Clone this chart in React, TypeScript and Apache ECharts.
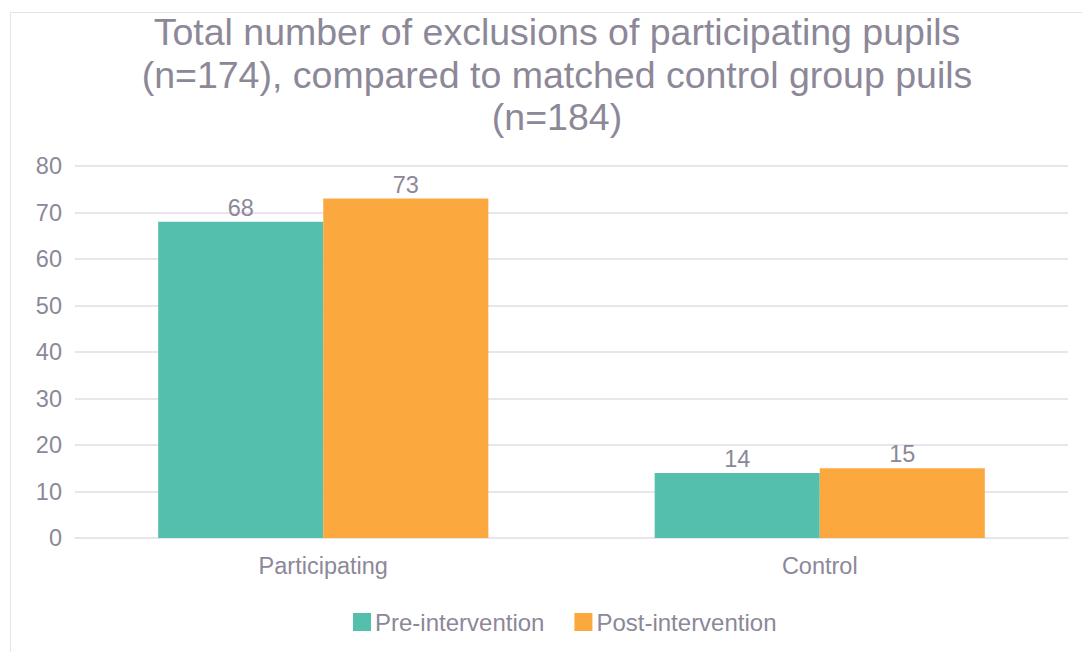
import React, { useEffect, useRef } from "react";
import * as echarts from "echarts";

const categories = ["Participating", "Control"];
const preIntervention = [68, 14];
const postIntervention = [73, 15];
const seriesNames = ["Pre-intervention", "Post-intervention"];
const titleText =
  "Total number of exclusions of participating pupils\n(n=174), compared to matched control group puils\n(n=184)";

export default function App() {
  const ref = useRef<HTMLDivElement>(null);
  useEffect(() => {
    document.body.style.margin = "0";
    const chart = echarts.init(ref.current!, null, { renderer: "svg" });
    const textColor = "#8c8898";
    const font = "Liberation Sans, Arial, sans-serif";
    chart.setOption({
      animation: false,
      backgroundColor: "#ffffff",
      textStyle: { fontFamily: font },
      title: {
        text: titleText,
        left: 552,
        textAlign: "center",
        top: 6,
        textStyle: {
          fontSize: 37.5,
          lineHeight: 42.5,
          fontWeight: "normal",
          color: textColor,
          fontFamily: font,
        },
      },
      graphic: [
        {
          type: "rect",
          shape: { x: 10.5, y: 12.5, width: 1100, height: 700 },
          style: { fill: "none", stroke: "#e6e4ea", lineWidth: 1 },
          silent: true,
        },
      ],
      legend: {
        bottom: 13,
        left: 348,
        itemWidth: 18,
        itemHeight: 18,
        itemGap: 30,
        icon: "rect",
        textStyle: { fontSize: 24, color: textColor, padding: [0, 0, 0, -1] },
        data: seriesNames,
      },
      grid: { left: 75, right: 14, top: 166, bottom: 114, containLabel: false },
      xAxis: {
        type: "category",
        data: categories,
        axisLine: { show: true, lineStyle: { color: "#e8e6ec", width: 2 } },
        axisTick: { show: false },
        axisLabel: { fontSize: 23.5, color: textColor, margin: 16 },
      },
      yAxis: {
        type: "value",
        min: 0,
        max: 80,
        interval: 10,
        axisLine: { show: false },
        axisTick: { show: false },
        axisLabel: { fontSize: 23.5, color: textColor, margin: 13 },
        splitLine: { lineStyle: { color: "#e8e6ec", width: 2 } },
      },
      series: [
        {
          name: seriesNames[0],
          type: "bar",
          data: preIntervention,
          barGap: "0%",
          barCategoryGap: "33.5%",
          itemStyle: { color: "#55bfae" },
          label: { show: true, position: "top", fontSize: 23.5, color: textColor, distance: 2 },
        },
        {
          name: seriesNames[1],
          type: "bar",
          data: postIntervention,
          barGap: "0%",
          barCategoryGap: "33.5%",
          itemStyle: { color: "#fba83f" },
          label: { show: true, position: "top", fontSize: 23.5, color: textColor, distance: 2 },
        },
      ],
    });
    return () => chart.dispose();
  }, []);
  return (
    <div
      ref={ref}
      style={{ position: "absolute", left: 0, top: 0, width: 1082, height: 652 }}
    />
  );
}
